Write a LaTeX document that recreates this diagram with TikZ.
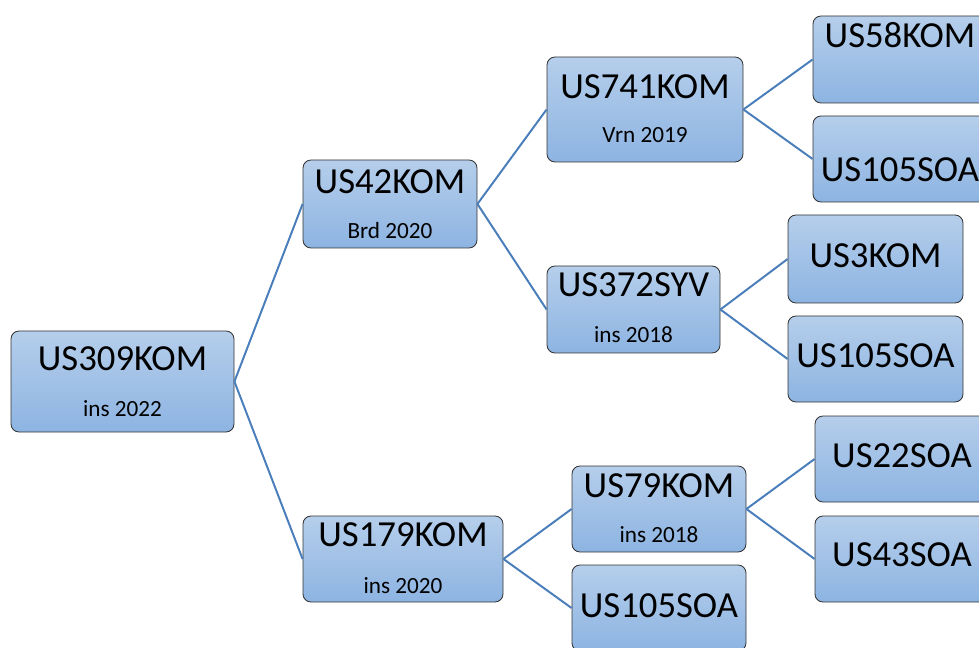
\documentclass[tikz,border=0pt]{standalone}
\usepackage{fontspec}
\setmainfont{Carlito}
\usetikzlibrary{calc}
\definecolor{boxtop}{HTML}{B5CEEB}
\definecolor{boxbot}{HTML}{8DB4E2}
\definecolor{boxline}{HTML}{333333}
\definecolor{linkblue}{HTML}{4A7EBB}
\tikzset{
  box/.style 2 args={draw=boxline, line width=.6pt, rounded corners=.2cm,
    top color=boxtop, bottom color=boxbot, inner sep=0pt,
    minimum width=#1*0.025cm, minimum height=#2*0.025cm},
  link/.style={draw=linkblue, line width=1.4pt},
  big/.style={font=\fontsize{26.1}{30}\selectfont, anchor=base, inner sep=0pt},
  sub/.style={font=\fontsize{16.5}{20}\selectfont, anchor=base, inner sep=0pt}
}

\begin{document}
\begin{tikzpicture}[x=0.025cm,y=-0.025cm]
\clip (0,0) rectangle (979,648);
% boxes
\node[box={223}{101}] (n309) at (122.5,381.5) {};
\node[box={174}{88}] (n42) at (390,204) {};
\node[box={200}{86}] (n179) at (403,559) {};
\node[box={196}{105}] (n741) at (645,109.5) {};
\node[box={173}{87}] (n372) at (633.5,309.5) {};
\node[box={174}{86}] (n79) at (659,509) {};
\node[box={174}{86}] (n105c) at (659,608) {};
\node[box={174}{87}] (n58) at (900,59.5) {};
\node[box={174}{86}] (n105a) at (900,159) {};
\node[box={175}{88}] (n3) at (875.5,259) {};
\node[box={175}{86}] (n105b) at (875.5,359) {};
\node[box={174}{86}] (n22) at (902,459) {};
\node[box={174}{86}] (n43) at (902,559) {};
% texts
\node[big] at ($(n309.north)+(0,40)$) {US309KOM};
\node[sub] at ($(n309.north)+(0,86)$) {ins 2022};
\node[big] at ($(n42.north)+(0,34)$) {US42KOM};
\node[sub] at ($(n42.north)+(0,79)$) {Brd 2020};
\node[big] at ($(n179.north)+(0,31)$) {US179KOM};
\node[sub] at ($(n179.north)+(0,78)$) {ins 2020};
\node[big] at ($(n741.north)+(0,42)$) {US741KOM};
\node[sub] at ($(n741.north)+(0,86)$) {Vrn 2019};
\node[big] at ($(n372.north)+(0,31)$) {US372SYV};
\node[sub] at ($(n372.north)+(0,77)$) {ins 2018};
\node[big] at ($(n79.north)+(0,32)$) {US79KOM};
\node[sub] at ($(n79.north)+(0,77)$) {ins 2018};
\node[big] at ($(n105c.north)+(0,53)$) {US105SOA};
\node[big] at ($(n58.north)+(0,32)$) {US58KOM};
\node[big] at ($(n105a.north)+(0,66)$) {US105SOA};
\node[big] at ($(n3.north)+(0,53)$) {US3KOM};
\node[big] at ($(n105b.north)+(0,52)$) {US105SOA};
\node[big] at ($(n22.north)+(0,52)$) {US22SOA};
\node[big] at ($(n43.north)+(0,51)$) {US43SOA};
% links
\draw[link] (n309.east) -- (n42.west);
\draw[link] (n309.east) -- (n179.west);
\draw[link] (n42.east) -- (n741.west);
\draw[link] (n42.east) -- (n372.west);
\draw[link] (n741.east) -- (n58.west);
\draw[link] (n741.east) -- (n105a.west);
\draw[link] (n372.east) -- (n3.west);
\draw[link] (n372.east) -- (n105b.west);
\draw[link] (n179.east) -- (n79.west);
\draw[link] (n179.east) -- (n105c.west);
\draw[link] (n79.east) -- (n22.west);
\draw[link] (n79.east) -- (n43.west);
\end{tikzpicture}
\end{document}
